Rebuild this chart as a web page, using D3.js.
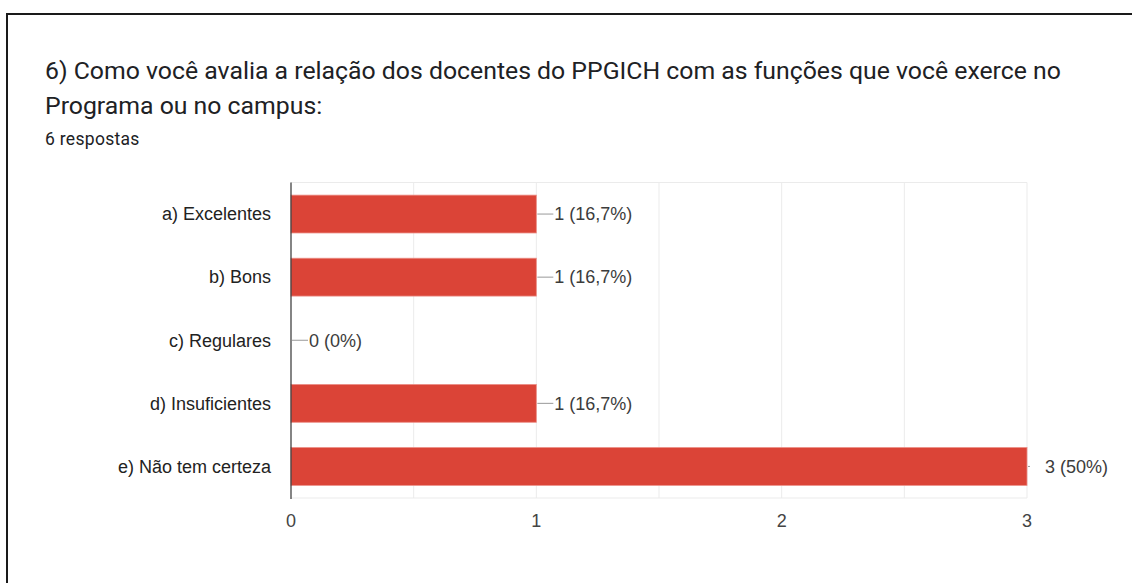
<!DOCTYPE html>
<html lang="pt">
<head>
<meta charset="utf-8">
<title>D3: Bar Chart</title>
<script src="https://d3js.org/d3.v7.min.js"></script>
<style>
  body { margin: 0; background: #fff; }
  svg { display: block; }
</style>
</head>
<body>
<script>
var categories = ["a) Excelentes", "b) Bons", "c) Regulares", "d) Insuficientes", "e) Não tem certeza"];
var counts = [1, 1, 0, 1, 3];
var percents = ["16,7%", "16,7%", "0%", "16,7%", "50%"];
var xTicks = [0, 1, 2, 3];
var gridTicks = [0.5, 1, 1.5, 2, 2.5, 3];
var titleLines = ["6) Como você avalia a relação dos docentes do PPGICH com as funções que você exerce no",
                  "Programa ou no campus:"];
var subtitle = "6 respostas";

var w = 1132, h = 583;
var plot = { left: 291, right: 1027, top: 182.5, bottom: 498 };

var svg = d3.select("body").append("svg")
  .attr("width", w)
  .attr("height", h);

// frame (top + left edge of the card)
svg.append("line").attr("x1", 7).attr("x2", w).attr("y1", 14).attr("y2", 14)
  .attr("stroke", "#1a1a1a").attr("stroke-width", 2);
svg.append("line").attr("x1", 7).attr("x2", 7).attr("y1", 13).attr("y2", h)
  .attr("stroke", "#1a1a1a").attr("stroke-width", 2);

// title
svg.selectAll("text.title")
  .data(titleLines)
  .enter()
  .append("text")
  .attr("class", "title")
  .attr("x", 45)
  .attr("y", function(d, i) { return 79 + i * 35; })
  .attr("font-family", "Roboto, sans-serif")
  .attr("font-size", "24.8px")
  .attr("fill", "#202124")
  .text(function(d) { return d; });

svg.append("text")
  .attr("x", 45)
  .attr("y", 144.5)
  .attr("font-family", "Roboto, sans-serif")
  .attr("font-size", "17.5px")
  .attr("letter-spacing", "0.3px")
  .attr("fill", "#202124")
  .text(subtitle);

var xScale = d3.scaleLinear()
  .domain([0, 3])
  .range([plot.left, plot.right]);

var yScale = d3.scaleBand()
  .domain(categories)
  .range([plot.top, plot.bottom])
  .paddingInner(0.4)
  .paddingOuter(0.2);

// gridlines
svg.selectAll("line.grid")
  .data(gridTicks)
  .enter()
  .append("line")
  .attr("class", "grid")
  .attr("x1", function(d) { return xScale(d); })
  .attr("x2", function(d) { return xScale(d); })
  .attr("y1", plot.top)
  .attr("y2", plot.bottom)
  .attr("stroke", "#ebebeb")
  .attr("stroke-width", 1);

svg.append("line")
  .attr("x1", plot.left).attr("x2", plot.right)
  .attr("y1", plot.top).attr("y2", plot.top)
  .attr("stroke", "#ebebeb");
svg.append("line")
  .attr("x1", plot.left).attr("x2", plot.right)
  .attr("y1", plot.bottom).attr("y2", plot.bottom)
  .attr("stroke", "#ebebeb");

// bars
svg.selectAll("rect.bar")
  .data(counts)
  .enter()
  .append("rect")
  .attr("class", "bar")
  .attr("x", xScale(0))
  .attr("y", function(d, i) { return yScale(categories[i]); })
  .attr("width", function(d) { return xScale(d) - xScale(0); })
  .attr("height", yScale.bandwidth())
  .attr("fill", "#db4437")
  .attr("stroke", function(d) { return d > 0 ? "#ec8f87" : "none"; })
  .attr("stroke-width", 0.8);

// annotation stems, clipped just past the plot edge
svg.append("clipPath").attr("id", "stemclip")
  .append("rect")
  .attr("x", plot.left).attr("y", 0)
  .attr("width", plot.right - plot.left + 3).attr("height", h);

svg.selectAll("line.stem")
  .data(counts)
  .enter()
  .append("line")
  .attr("class", "stem")
  .attr("clip-path", "url(#stemclip)")
  .attr("x1", function(d) { return xScale(d) + 1; })
  .attr("x2", function(d) { return xScale(d) + 17; })
  .attr("y1", function(d, i) { return yScale(categories[i]) + yScale.bandwidth() / 2; })
  .attr("y2", function(d, i) { return yScale(categories[i]) + yScale.bandwidth() / 2; })
  .attr("stroke", "#999")
  .attr("stroke-width", 1);

svg.selectAll("text.value")
  .data(counts)
  .enter()
  .append("text")
  .attr("class", "value")
  .attr("x", function(d) { return xScale(d) + 18; })
  .attr("y", function(d, i) { return yScale(categories[i]) + yScale.bandwidth() / 2; })
  .attr("dy", "0.35em")
  .attr("font-family", "'Liberation Sans', Arial, sans-serif")
  .attr("font-size", "18px")
  .attr("fill", "#3c3c3c")
  .text(function(d, i) { return d + " (" + percents[i] + ")"; });

// category labels
svg.selectAll("text.cat")
  .data(categories)
  .enter()
  .append("text")
  .attr("class", "cat")
  .attr("x", 271)
  .attr("y", function(d) { return yScale(d) + yScale.bandwidth() / 2; })
  .attr("dy", "0.35em")
  .attr("text-anchor", "end")
  .attr("font-family", "'Liberation Sans', Arial, sans-serif")
  .attr("font-size", "18px")
  .attr("fill", "#222")
  .text(function(d) { return d; });

// x tick labels
svg.selectAll("text.tick")
  .data(xTicks)
  .enter()
  .append("text")
  .attr("class", "tick")
  .attr("x", function(d) { return xScale(d); })
  .attr("y", 527)
  .attr("text-anchor", "middle")
  .attr("font-family", "'Liberation Sans', Arial, sans-serif")
  .attr("font-size", "18px")
  .attr("fill", "#444")
  .text(function(d) { return d; });

// baseline axis
svg.append("line")
  .attr("x1", plot.left).attr("x2", plot.left)
  .attr("y1", plot.top).attr("y2", plot.bottom + 1)
  .attr("stroke", "#333")
  .attr("stroke-width", 1.2);
</script>
</body>
</html>
